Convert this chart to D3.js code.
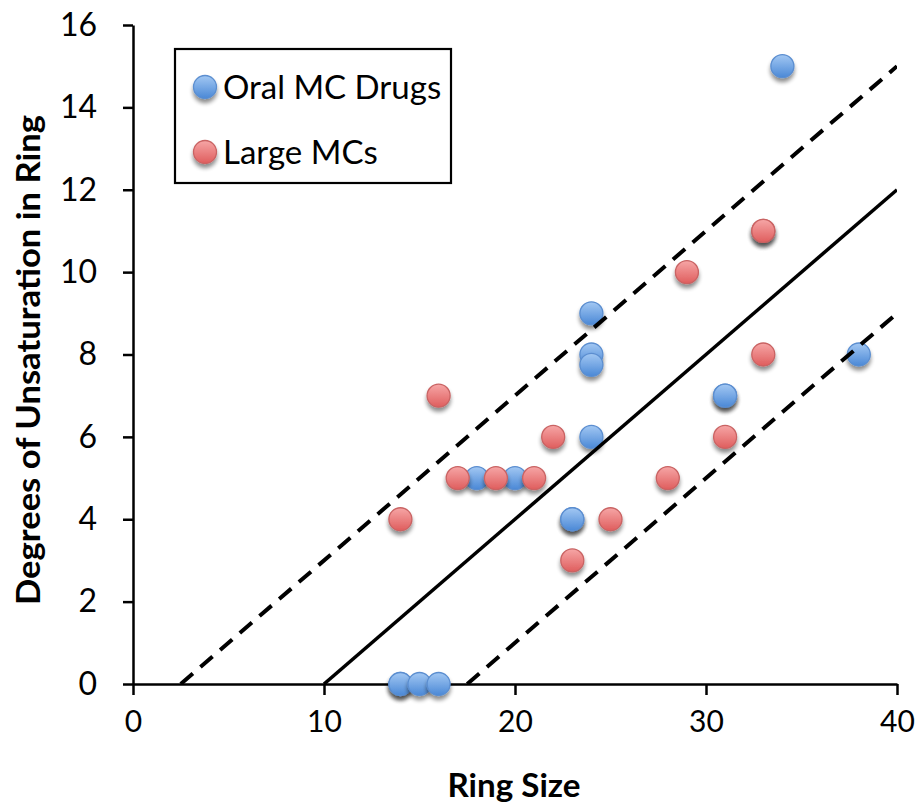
<!DOCTYPE html>
<html>
<head>
<meta charset="utf-8">
<script src="https://cdn.jsdelivr.net/npm/d3@7"></script>
<style>
  html, body { margin: 0; padding: 0; background: #fff; }
  svg { display: block; }
</style>
</head>
<body>
<svg id="chart" width="921" height="806"></svg>
<script>
// Ring size vs. degrees of unsaturation
const oralRingSize   = [34, 24, 24, 24, 24, 38, 31, 31, 18, 20, 23, 23, 14, 14, 15, 16];
const oralUnsat      = [15,  9,  8, 7.75, 6, 8,  7,  7,  5,  5,  4,  4,  0,  0,  0,  0];
const largeRingSize  = [16, 14, 17, 19, 21, 22, 23, 25, 28, 29, 33, 33, 33, 31];
const largeUnsat     = [ 7,  4,  5,  5,  5,  6,  3,  4,  5, 10, 11, 11,  8,  6];

// Trend line and its +/- band (slope 0.4)
const trendSlope = 0.4;
const trendIntercepts = [-4, -1, -7];   // centre, upper, lower
const xTicks = [0, 10, 20, 30, 40];
const yTicks = [0, 2, 4, 6, 8, 10, 12, 14, 16];
const seriesNames = ["Oral MC Drugs", "Large MCs"];

const svg = d3.select("#chart");
const x = d3.scaleLinear().domain([0, 40]).range([133, 897]);
const y = d3.scaleLinear().domain([0, 16]).range([684, 25]);
const FONT = "Lato, 'Open Sans', sans-serif";

const defs = svg.append("defs");
function grad(id, top, bottom) {
  const g = defs.append("linearGradient").attr("id", id)
    .attr("x1", 0).attr("y1", 0).attr("x2", 0).attr("y2", 1);
  g.append("stop").attr("offset", "0%").attr("stop-color", top);
  g.append("stop").attr("offset", "100%").attr("stop-color", bottom);
}
grad("gBlue", "#a3c8f3", "#4a88d6");
grad("gRed", "#f6a6a6", "#df5d5d");
const f = defs.append("filter").attr("id", "shadow")
  .attr("x", "-50%").attr("y", "-50%").attr("width", "200%").attr("height", "220%");
f.append("feGaussianBlur").attr("in", "SourceAlpha").attr("stdDeviation", 2.2).attr("result", "b");
f.append("feOffset").attr("in", "b").attr("dx", 0).attr("dy", 4).attr("result", "o");
f.append("feComponentTransfer").attr("in", "o").attr("result", "s")
  .append("feFuncA").attr("type", "linear").attr("slope", 0.45);
const fm = f.append("feMerge");
fm.append("feMergeNode").attr("in", "s");
fm.append("feMergeNode").attr("in", "SourceGraphic");

// Axes
const yAxis = d3.axisLeft(y).tickValues(yTicks).tickSize(10).tickSizeOuter(0).tickPadding(26);
const xAxis = d3.axisBottom(x).tickValues(xTicks).tickSize(11).tickSizeOuter(0).tickPadding(16);

const gy = svg.append("g").attr("transform", `translate(${x(0)},0)`).call(yAxis);
gy.selectAll("text").attr("font-family", FONT).attr("font-size", 32).attr("fill", "#000");
const gx = svg.append("g").attr("transform", `translate(0,${y(0)})`).call(xAxis);
gx.selectAll("text").attr("font-family", FONT).attr("font-size", 30).attr("fill", "#000");
svg.selectAll(".domain, .tick line").attr("stroke", "#000").attr("stroke-width", 2.5);

// Points
const oral = oralRingSize.map((d, i) => ({ x: d, y: oralUnsat[i] }));
const large = largeRingSize.map((d, i) => ({ x: d, y: largeUnsat[i] }));
const R = 11.5;
function drawSeries(data, fill, stroke) {
  svg.append("g").selectAll("circle").data(data).join("circle")
    .attr("cx", d => x(d.x)).attr("cy", d => y(d.y)).attr("r", R)
    .attr("fill", `url(#${fill})`).attr("stroke", stroke).attr("stroke-width", 1.3)
    .attr("filter", "url(#shadow)");
}
drawSeries(oral, "gBlue", "#5b8ed0");
drawSeries(large, "gRed", "#c96363");

// Trend lines, clipped to the plot area
defs.append("clipPath").attr("id", "plotClip").append("rect")
  .attr("x", x(0)).attr("y", y(16)).attr("width", x(40) - x(0)).attr("height", y(0) - y(16));
const line = d3.line().x(d => x(d[0])).y(d => y(d[1]));
const lineG = svg.append("g").attr("clip-path", "url(#plotClip)");
trendIntercepts.forEach((b, i) => {
  const x0 = -b / trendSlope;
  const pts = [[x0, 0], [40, trendSlope * 40 + b]];
  lineG.append("path").attr("d", line(pts)).attr("fill", "none")
    .attr("stroke", "#000").attr("stroke-width", i === 0 ? 3.5 : 4)
    .attr("stroke-dasharray", i === 0 ? null : "16,10");
});

// Legend
const lg = svg.append("g");
lg.append("rect").attr("x", 175).attr("y", 49).attr("width", 276).attr("height", 134)
  .attr("fill", "#fff").attr("stroke", "#000").attr("stroke-width", 2.2);
[["gBlue", "#5b8ed0"], ["gRed", "#c96363"]].forEach((c, i) => {
  const cy = 87 + i * 65;
  lg.append("circle").attr("cx", 205).attr("cy", cy).attr("r", R)
    .attr("fill", `url(#${c[0]})`).attr("stroke", c[1]).attr("stroke-width", 1.3)
    .attr("filter", "url(#shadow)");
  lg.append("text").attr("x", 223).attr("y", cy + 12)
    .attr("font-family", FONT).attr("font-size", 33)
    .attr("fill", "#000").text(seriesNames[i]);
});

// Axis titles
svg.append("text").attr("x", 514).attr("y", 797).attr("text-anchor", "middle")
  .attr("font-family", FONT).attr("font-weight", "bold")
  .attr("font-size", 33).attr("textLength", 133).attr("lengthAdjust", "spacingAndGlyphs")
  .attr("fill", "#000").text("Ring Size");
svg.append("text").attr("transform", "translate(40,360) rotate(-90)").attr("text-anchor", "middle")
  .attr("font-family", FONT).attr("font-weight", "bold")
  .attr("font-size", 33).attr("textLength", 490).attr("lengthAdjust", "spacingAndGlyphs")
  .attr("fill", "#000").text("Degrees of Unsaturation in Ring");
</script>
</body>
</html>
